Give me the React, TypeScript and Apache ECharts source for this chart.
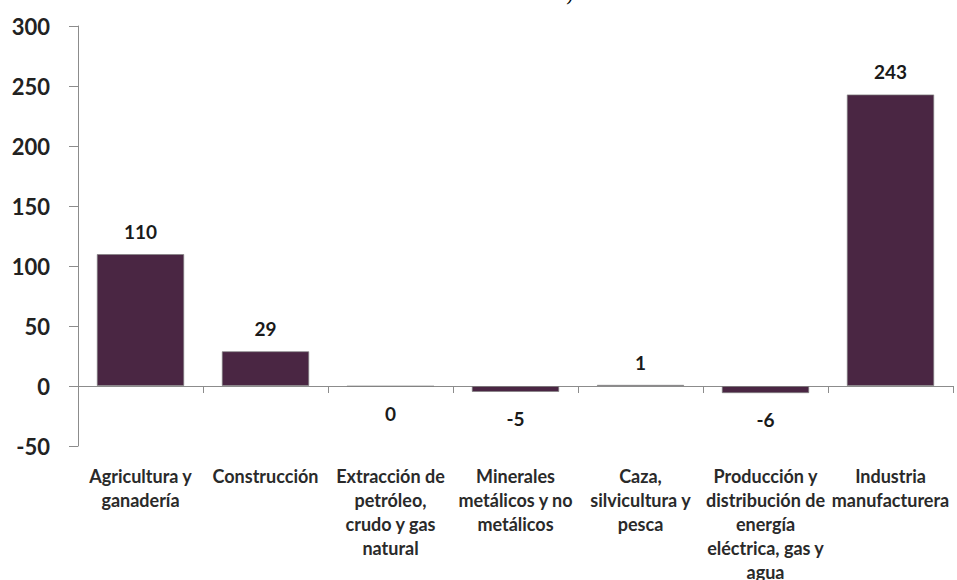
import React, { useEffect, useRef } from "react";
import * as echarts from "echarts";

const categories: string[] = [
  "Agricultura y\nganadería",
  "Construcción",
  "Extracción de\npetróleo,\ncrudo y gas\nnatural",
  "Minerales\nmetálicos y no\nmetálicos",
  "Caza,\nsilvicultura y\npesca",
  "Producción y\ndistribución de\nenergía\neléctrica, gas y\nagua",
  "Industria\nmanufacturera",
];

const values: number[] = [110, 29, -0.4, -5, 1, -6, 243];

const yTicks = { min: -50, max: 300, interval: 50 };

const titleFragment = "de dólares)";

const BAR_COLOR = "#4a2643";
const AXIS_COLOR = "#8c8c8c";
const FONT = "Lato, 'Open Sans', sans-serif";

export default function App() {
  const ref = useRef<HTMLDivElement>(null);

  useEffect(() => {
    if (!ref.current) return;
    const chart = echarts.init(ref.current, null, { renderer: "svg" });

    const data = values.map((v) => ({
      value: v,
      label: {
        position: v < 0 ? "bottom" : "top",
        distance: v < 0 ? 17 : 13,
      },
    }));

    chart.setOption({
      animation: false,
      backgroundColor: "#ffffff",
      textStyle: { fontFamily: FONT },
      graphic: [
        {
          type: "text",
          x: 527,
          y: -18,
          style: {
            text: titleFragment,
            font: "21px 'Liberation Serif', 'DejaVu Serif', serif",
            fill: "#000",
            align: "center",
            verticalAlign: "top",
          },
        },
      ],
      grid: {
        left: 78,
        right: 4,
        top: 26,
        bottom: 134,
        containLabel: false,
        outerBoundsMode: "none",
      },
      xAxis: {
        type: "category",
        data: categories,
        boundaryGap: true,
        axisLine: { show: true, onZero: true, lineStyle: { color: AXIS_COLOR, width: 1 } },
        axisTick: { show: true, length: 7, alignWithLabel: false, lineStyle: { color: AXIS_COLOR } },
        axisLabel: {
          interval: 0,
          margin: 18,
          fontSize: 18,
          fontWeight: "bold",
          lineHeight: 24,
          color: "#2a2a2a",
          fontFamily: FONT,
          align: "center",
          hideOverlap: false,
        },
        splitLine: { show: false },
      },
      yAxis: {
        type: "value",
        min: yTicks.min,
        max: yTicks.max,
        interval: yTicks.interval,
        axisLine: { show: true, lineStyle: { color: AXIS_COLOR, width: 1 } },
        axisTick: { show: true, length: 9, lineStyle: { color: AXIS_COLOR } },
        axisLabel: {
          fontSize: 22,
          fontWeight: "bold",
          color: "#222",
          fontFamily: FONT,
          margin: 28,
        },
        splitLine: { show: false },
      },
      series: [
        {
          type: "bar",
          data,
          barCategoryGap: "30%",
          itemStyle: {
            color: BAR_COLOR,
            borderColor: "rgba(130,130,130,0.7)",
            borderWidth: 1,
          },
          label: {
            show: true,
            fontSize: 19,
            fontWeight: "bold",
            color: "#1a1a1a",
            fontFamily: FONT,
            formatter: (p: any) => String(Math.round(p.value) || 0),
          },
        },
      ],
    });

    return () => chart.dispose();
  }, []);

  return (
    <div
      ref={ref}
      style={{ position: "fixed", left: 0, top: 0, width: 957, height: 580, background: "#fff" }}
    />
  );
}
